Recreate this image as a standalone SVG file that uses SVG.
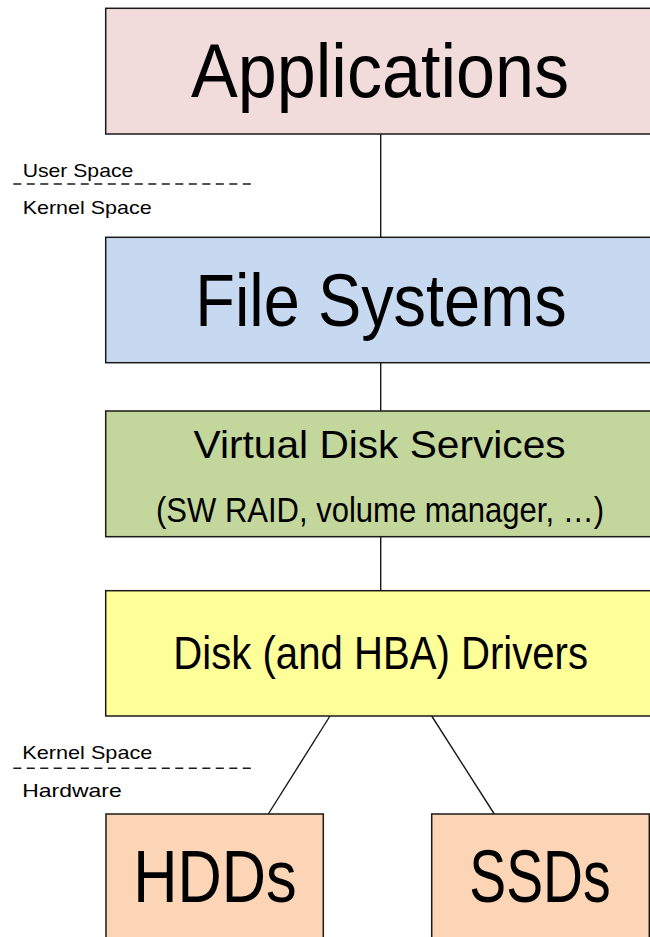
<svg xmlns="http://www.w3.org/2000/svg" width="650" height="937" viewBox="0 0 650 937">
  <style>
    .box { stroke: #1a1a1a; stroke-width: 1.5; }
    .t { font-family: "Liberation Sans", Arial, sans-serif; fill: #000; text-anchor: middle; }
    .s { font-family: "Liberation Sans", Arial, sans-serif; fill: #000; font-size: 19px; }
    .conn { stroke: #1a1a1a; stroke-width: 1.4; fill: none; }
    .sep { stroke: #1a1a1a; stroke-width: 1.4; stroke-dasharray: 8 5.5; fill: none; }
  </style>
  <rect width="650" height="937" fill="#ffffff"/>

  <g id="connectors">
    <line class="conn" x1="380.7" y1="134" x2="380.7" y2="237.3"/>
    <line class="conn" x1="380.7" y1="362.7" x2="380.7" y2="411"/>
    <line class="conn" x1="380.7" y1="536.7" x2="380.7" y2="590.7"/>
    <line class="conn" x1="330" y1="716" x2="268.3" y2="814"/>
    <line class="conn" x1="431.7" y1="716" x2="494.3" y2="814"/>
  </g>

  <g id="applications">
    <rect class="box" x="105.7" y="8.3" width="552" height="125.7" fill="#F2DCDB"/>
    <text class="t" x="380" y="96.7" font-size="75.4" textLength="378" lengthAdjust="spacingAndGlyphs">Applications</text>
  </g>

  <g id="file-systems">
    <rect class="box" x="105.7" y="237.3" width="552" height="125.4" fill="#C6D9F1"/>
    <text class="t" x="381" y="325.7" font-size="74" textLength="371.4" lengthAdjust="spacingAndGlyphs">File Systems</text>
  </g>

  <g id="virtual-disk-services">
    <rect class="box" x="105.7" y="411" width="552" height="125.7" fill="#C3D69B"/>
    <text class="t" x="379.6" y="458.3" font-size="39.5" textLength="372" lengthAdjust="spacingAndGlyphs">Virtual Disk Services</text>
    <text class="t" x="380" y="521.7" font-size="35" textLength="448" lengthAdjust="spacingAndGlyphs">(SW RAID, volume manager, …)</text>
  </g>

  <g id="disk-drivers">
    <rect class="box" x="105.7" y="590.7" width="552" height="125.3" fill="#FFFF99"/>
    <text class="t" x="380.7" y="669.3" font-size="45.6" textLength="414.7" lengthAdjust="spacingAndGlyphs">Disk (and HBA) Drivers</text>
  </g>

  <g id="hdds">
    <rect class="box" x="106" y="814" width="217.3" height="140" fill="#FBD5B5"/>
    <text class="t" x="215" y="902.3" font-size="74" textLength="163.4" lengthAdjust="spacingAndGlyphs">HDDs</text>
  </g>

  <g id="ssds">
    <rect class="box" x="431.7" y="814" width="217.6" height="140" fill="#FBD5B5"/>
    <text class="t" x="540" y="901.7" font-size="74" textLength="141.4" lengthAdjust="spacingAndGlyphs">SSDs</text>
  </g>

  <g id="boundary-user-kernel">
    <line class="sep" x1="13.3" y1="184" x2="255" y2="184"/>
    <text class="s" x="22.7" y="176.7" textLength="110.6" lengthAdjust="spacingAndGlyphs">User Space</text>
    <text class="s" x="22.7" y="214" textLength="129" lengthAdjust="spacingAndGlyphs">Kernel Space</text>
  </g>

  <g id="boundary-kernel-hardware">
    <line class="sep" x1="13.3" y1="768.3" x2="255" y2="768.3"/>
    <text class="s" x="22.3" y="759" textLength="130" lengthAdjust="spacingAndGlyphs">Kernel Space</text>
    <text class="s" x="22.3" y="796.7" textLength="99.4" lengthAdjust="spacingAndGlyphs">Hardware</text>
  </g>
</svg>
